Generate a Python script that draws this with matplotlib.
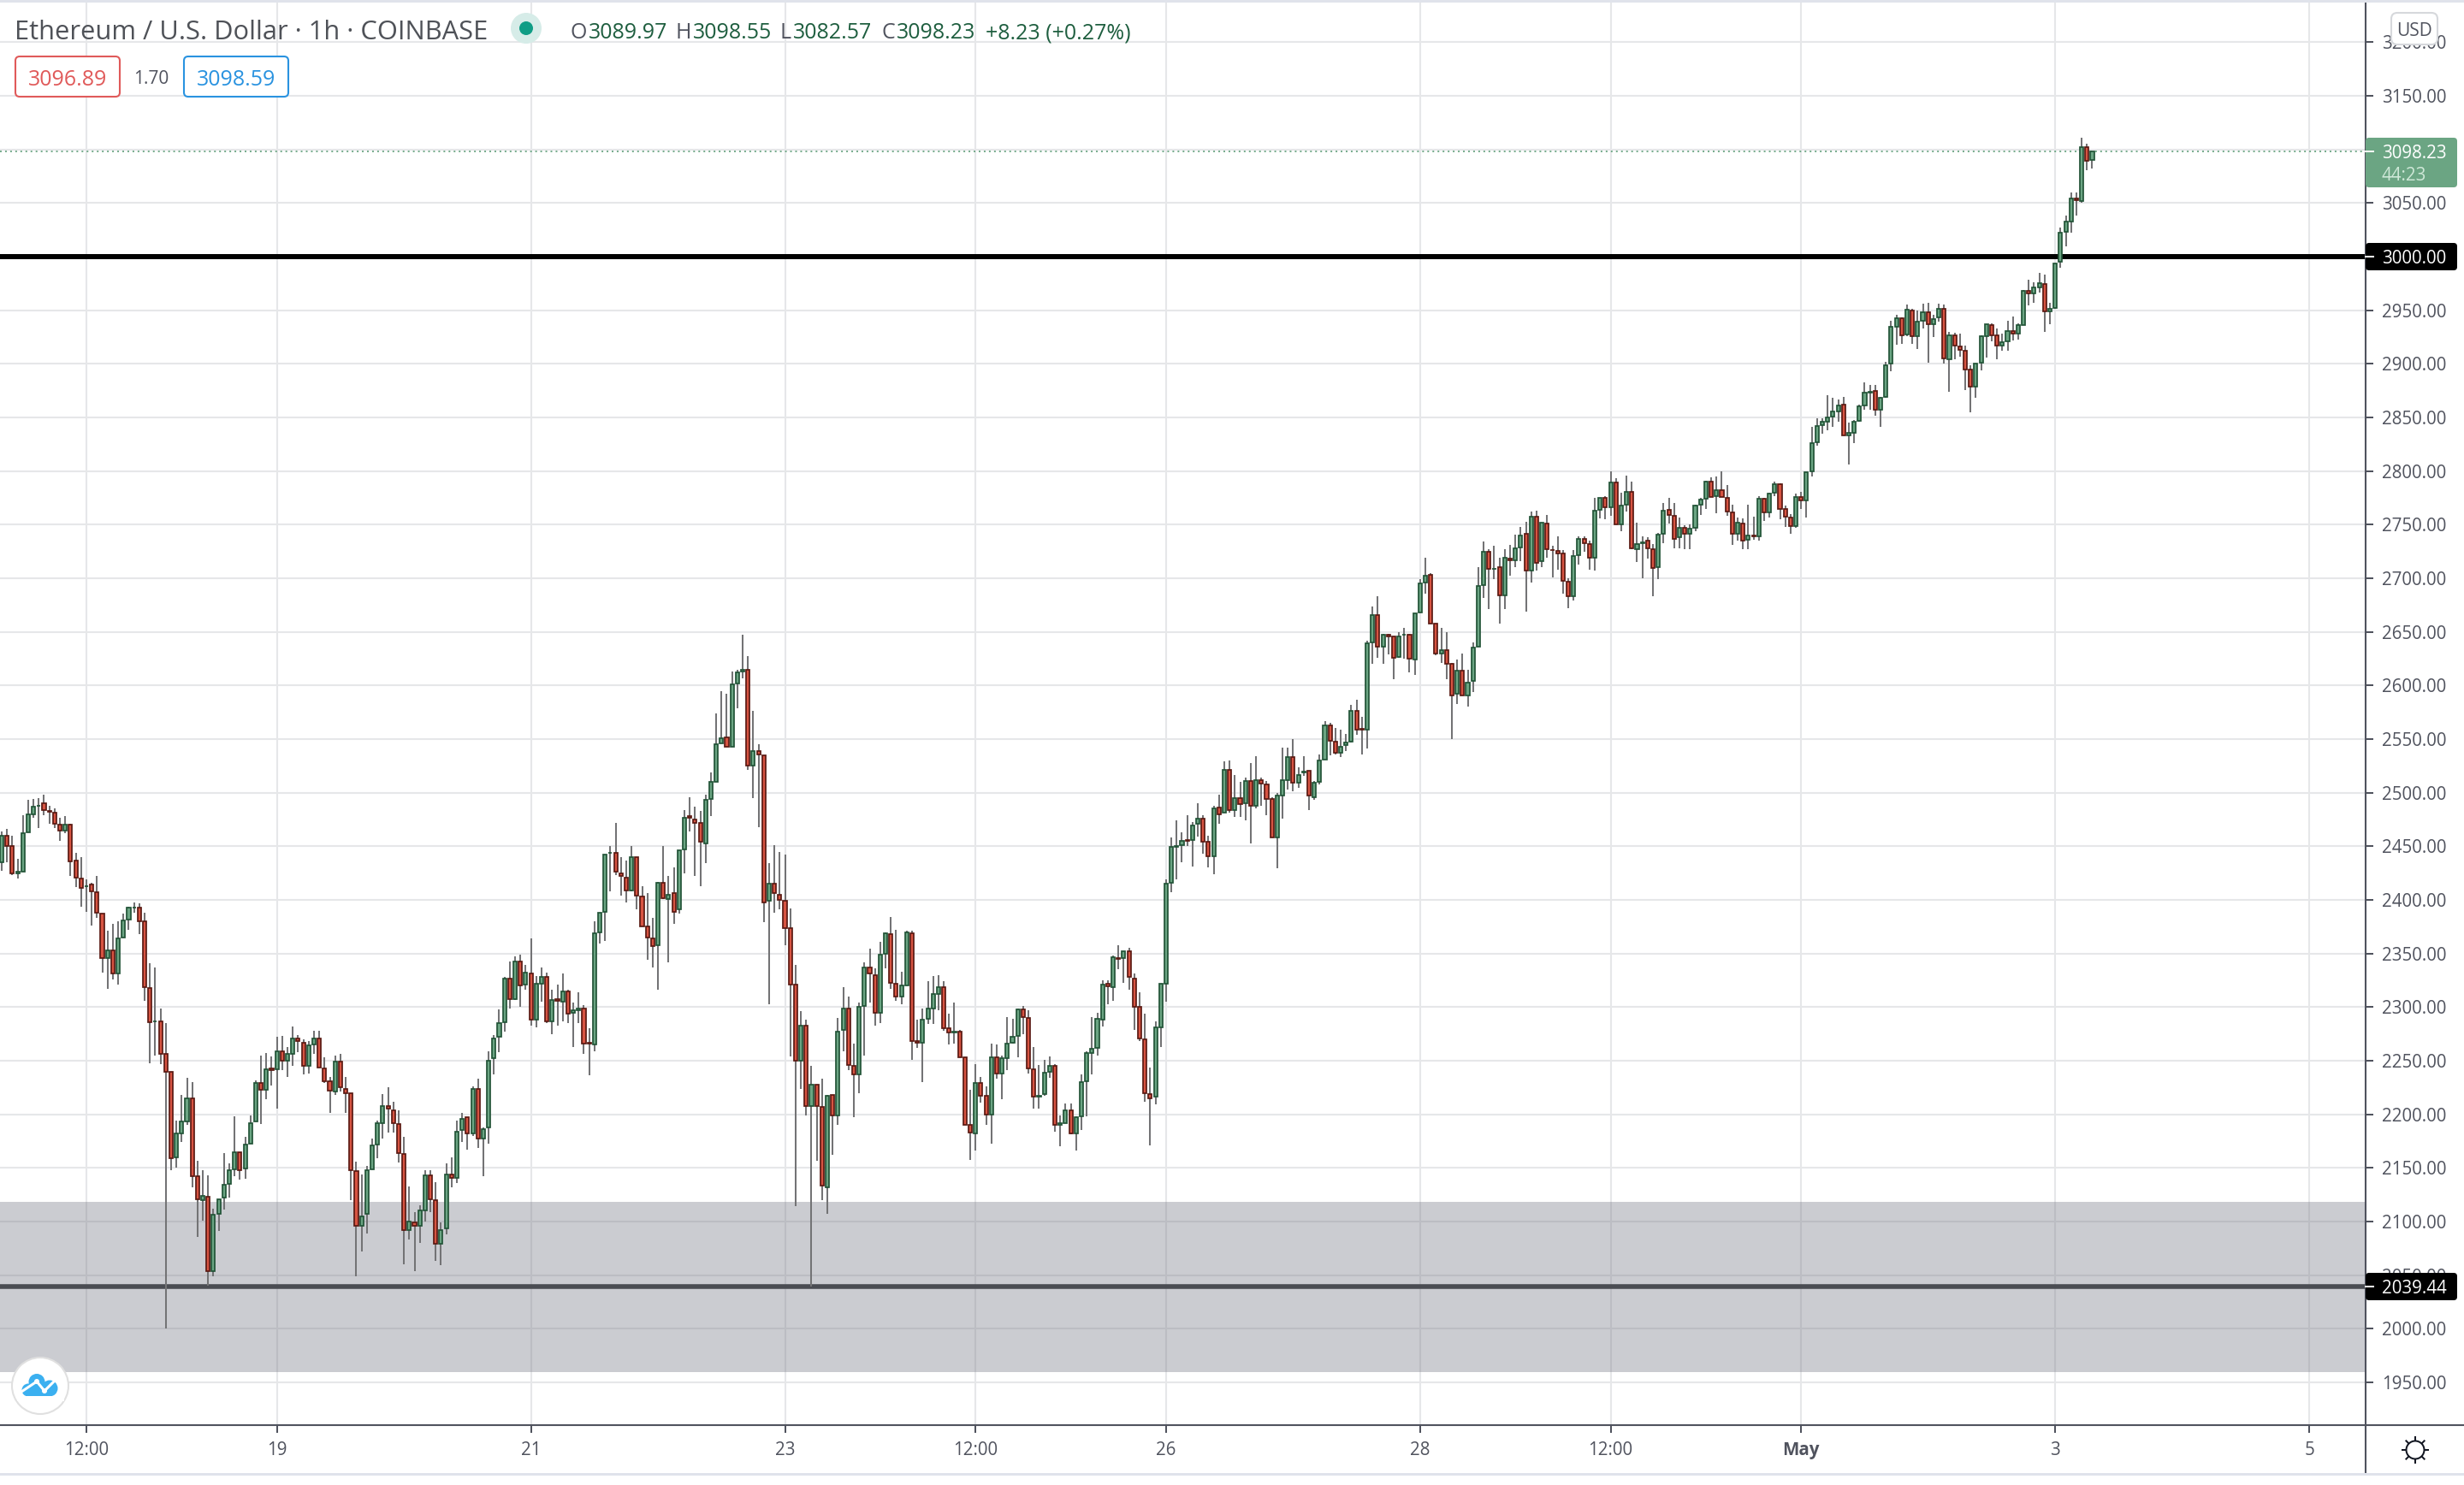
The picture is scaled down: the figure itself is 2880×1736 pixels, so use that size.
import matplotlib
matplotlib.use("Agg")
import matplotlib.pyplot as plt
from matplotlib.patches import Circle, FancyBboxPatch, Rectangle
import numpy as np

plt.rcParams['font.family'] = ['Open Sans', 'DejaVu Sans']

opens = [
2435,2460,2450,2425,2426,2463,2480,2487.5,2490,2483,
2481,2470,2465,2470,2437,2420,2412.5,2414,2407,2387,
2346,2353,2331,2365,2382,2392.5,2393,2380,2318,2286.5,
2287,2256,2240,2159.5,2182,2193,2215,2142,2120,2123,
2054,2107,2122,2135.5,2149,2165,2149.5,2173,2193,2229,
2222.5,2243,2242,2259,2250,2256,2271,2267,2245,2265,
2271,2243,2231,2221,2249,2224,2220,2147,2096,2107,
2149,2172,2191.5,2208,2204,2191,2163,2092,2099.5,2096,
2110,2143,2120,2079,2094,2144,2141,2185,2197,2182,
2224,2177,2188,2252,2272,2286,2327,2307.5,2342.5,2321,
2331,2288,2322,2328,2287,2307.5,2305,2315,2295,2297,
2299,2266.5,2265,2370,2389,2443.5,2444,2425,2421,2409,
2440,2403,2375,2364,2358,2416,2401,2406,2391,2447,
2478,2475,2472,2453,2494,2510,2546,2552,2543,2602,
2613,2615,2525,2539,2535,2399,2415.5,2405,2399,2373.5,
2321,2250,2283,2208,2228,2207,2132,2218,2199,2279,
2299,2245.5,2237,2301,2337,2330,2295,2350,2368,2322,
2310,2320,2369,2268,2267,2289,2299,2312,2319,2280,
2276.5,2277,2253,2190,2182,2229,2217,2200,2253,2238,
2252.5,2267,2273,2297.5,2290,2242,2216.5,2219,2240,2245,
2190,2192,2204,2182,2198,2231,2257.5,2262,2288.5,2322,
2318.6,2346,2346,2352,2327,2300,2270,2219,2216.5,2281,
2322,2416,2449.5,2451,2456,2456,2471,2475.5,2454,2441,
2486,2481,2521,2484,2495,2490,2511,2488,2512,2508,
2494,2458,2497.5,2512,2533,2509,2518.7,2520.5,2496,2510,
2531,2563,2548,2537,2544.7,2548,2576,2559.5,2559,2640,
2666,2636,2647.6,2645.5,2627,2647,2647,2624,2668,2696,
2703.5,2658,2630,2633,2620,2592,2614,2591,2604,2636,
2693.6,2725,2708.7,2710,2684,2718,2717,2729,2741.5,2707,
2757.4,2715.6,2751,2726.5,2725.6,2723,2697,2683.5,2721.7,2737,
2732,2719,2764,2775,2766,2789,2750,2768.6,2781,2727,
2733,2735.5,2727.5,2710,2741.5,2764,2758.5,2738,2747,2741.5,
2747,2768.6,2774.5,2790.5,2776.6,2782.5,2775,2761.5,2741.5,2751,
2736,2740,2739,2774.5,2761.5,2780,2788,2764.6,2757,2748.5,
2776,2772.6,2800,2826.5,2842.7,2846.4,2851,2856,2862,2833,
2836,2847,2861,2873.5,2875,2857,2869,2900,2935,2942.6,
2927.4,2950,2926,2940,2948,2936.7,2943,2951,2904,2927,
2916,2912.5,2895,2879,2901,2926,2936.5,2927,2917,2921,
2931,2928,2936.5,2968,2966,2971.5,2974.5,2949,2952,2995,
3023,3033,3054,3052,3102,3089.97]

closes = [
2460,2450,2425,2426,2462,2480,2487,2488,2484,2482,
2471,2465,2470,2436,2421,2411,2413,2408,2388,2346,
2353,2331,2364,2381,2393,2393,2380,2319,2286,2287,
2256,2240,2159,2182,2193,2215,2142,2121,2124,2054,
2106,2121,2134,2148,2165,2148,2172,2192,2229,2222.5,
2242,2241.5,2258.5,2250,2256,2271,2268,2245,2264,2271,
2244,2231,2222,2249,2225,2220,2148,2096,2105,2148,
2171,2191.5,2208,2205,2191.5,2164,2092,2100,2096,2110,
2143,2121,2079,2092,2144,2141,2184,2196,2182,2224,
2177,2186,2250,2271,2285,2327,2307.5,2342.5,2320,2332,
2288,2322,2328,2287,2307,2305.5,2315,2294,2297,2299,
2266,2266,2369,2388,2442.5,2444,2426,2422,2409,2440,
2404,2375,2365,2357,2416,2402,2405,2389,2446,2477,
2477,2472,2454,2493,2510.5,2545.5,2551,2543,2601,2612.5,
2615,2525,2539,2536,2398,2415.5,2406,2400,2374,2321,
2250,2283,2208,2228,2207.5,2133.5,2217.5,2199,2277,2298.7,
2246,2237,2300.5,2337,2331,2295,2349,2369,2322.6,2310,
2320,2370,2268,2266.5,2288,2299,2312,2319,2280,2276,
2277,2253,2190,2183,2229,2217,2200,2253,2238,2252,
2266,2272.6,2298,2291,2243,2216.5,2217.5,2239,2245,2190,
2191.5,2204,2182,2197,2230,2257,2261,2289,2321,2319.7,
2346.5,2345,2352,2328,2300.5,2271,2220,2215,2281,2321.5,
2415.5,2449.5,2450.5,2455,2455,2469.5,2475.5,2454,2441,2485.5,
2480,2521,2484,2495,2489.5,2511,2488,2511.5,2508.5,2494,
2458,2497,2512,2533,2509,2516.5,2520,2497.5,2509,2530,
2563,2548.5,2537,2542.5,2546.5,2576,2559,2559,2639,2666,
2636,2647.6,2645.5,2626,2646,2647.4,2625,2667,2695.5,2702.6,
2658,2630,2633,2620,2591,2614,2591,2603,2635.7,2693,
2725,2709,2709,2684,2719,2716.5,2728,2740,2707,2757.4,
2714,2751.5,2727,2726,2723,2698,2683.5,2721,2737,2732.5,
2719,2763,2775,2766,2789,2750,2768,2780.6,2728,2732,
2733.6,2728,2709.5,2741,2763,2759,2737,2747,2741.5,2746,
2768,2773.5,2790.5,2776,2782,2776,2762,2741.5,2751.5,2735.5,
2740,2739,2774.5,2761.5,2779,2788,2765,2757.5,2748.5,2776,
2773,2799,2826,2842,2846,2850,2855.7,2861,2833,2835.5,
2846.4,2860.5,2873,2874,2857,2868,2899,2934.6,2942.6,2927,
2950.5,2926,2939,2948,2936.7,2942,2951,2905,2927,2917,
2913,2895,2879,2900,2926,2937,2927,2917,2920,2931,
2928,2936.5,2968,2966,2971,2975,2949,2951,2994,3022,
3033,3054,3053,3102,3089.6,3098.23]

highs = [
2464,2466,2460,2438,2479,2493,2494,2495,2498,2488,
2485,2477,2478,2471,2444,2440,2419,2416,2422,2387,
2371,2378,2380,2387,2394,2398,2397,2388,2341,2337,
2299,2285,2240,2194,2218,2234,2230,2157,2148,2143,
2112,2121,2164,2154,2198,2165,2179,2199,2232,2255,
2257.5,2254,2272,2273.5,2263,2282,2274,2270,2268,2278,
2278,2253,2235,2255,2256,2235,2220,2156,2144,2152,
2177,2194,2219,2225,2212,2204,2179,2133,2109,2115,
2148,2148,2137,2099,2154,2160,2194,2201,2197,2226,
2233,2188,2258.5,2274,2298,2328,2342.5,2347,2349,2339,
2364,2329,2337,2332,2316,2321,2331,2316,2304,2314,
2302,2280,2380,2388,2442.5,2450,2472,2440,2437,2450,
2440,2413,2406,2383,2417,2450,2422,2430,2446,2484,
2495.5,2487,2483,2498,2518.5,2574,2595,2592,2613,2615,
2647,2627.5,2576,2545,2535,2434,2451,2445,2442.5,2392,
2339,2296,2288,2245,2228,2233,2218,2218,2290,2318.6,
2310,2266,2304,2342,2354.5,2336.5,2361,2370,2384,2372,
2333,2371,2371,2288,2299,2324,2329,2330,2324,2294,
2304,2278.5,2253,2223,2247,2235,2226,2266,2265,2255,
2291,2289,2299,2301,2297,2263,2246,2251,2254,2246.6,
2199,2210,2210,2198,2237,2259,2291,2295,2325,2325,
2348,2358,2352,2355,2331,2314,2294,2244,2286.5,2321.5,
2419,2458,2474,2463,2479,2473,2490,2479,2459.5,2488,
2498,2529,2530,2516.5,2510,2514,2528,2534,2514,2511,
2496,2499.5,2542,2542,2550,2523.5,2534,2520.5,2511,2535.5,
2567,2565,2560,2558.5,2554.5,2582,2587,2571,2641.5,2674,
2683,2648,2648,2646,2649.5,2654,2648,2667.5,2699,2719,
2705,2658,2654,2649.5,2621,2624,2629.5,2615,2640,2710,
2734,2727,2730,2719.4,2727,2731,2741,2748,2752.6,2762,
2763,2752,2759,2730,2739.5,2726,2700,2726,2739.5,2739.5,
2735,2775,2775,2776.6,2800,2793,2780,2796,2790,2752,
2739,2738,2732,2742,2770,2775,2770,2757,2749.5,2750,
2768.6,2775,2791,2794,2795,2800,2787,2769,2757,2756,
2768.6,2757.5,2777,2775,2780,2790,2788.5,2768,2760,2779,
2781,2799,2841,2849.6,2849.6,2870.5,2868,2867,2869,2845.6,
2848,2862,2883,2880.6,2880,2869,2902,2940,2946,2943,
2955,2951,2950,2956,2956.6,2946,2956,2955,2930,2929,
2928.5,2917,2899,2900,2927,2937,2938,2933,2928,2940,
2944,2938,2969,2978.5,2976,2985,2983,2957,2994,3027,
3038,3060,3060,3111,3105.6,3098.55]

lows = [
2427,2435,2423,2420,2426,2463,2477,2467,2479,2471,
2467,2455,2462,2422,2412,2394,2389,2376,2383,2332,
2317,2326,2321,2365,2372,2388,2368,2306,2248,2255,
2247,2000,2148,2150,2174,2190,2132,2086,2100.5,2040,
2049,2091,2111,2122,2142,2139,2140,2173,2193,2191,
2214,2227,2205,2241,2235,2245,2258,2237,2238,2256,
2244,2229,2201,2218,2221,2201,2120,2049,2072,2089,
2149,2159,2177,2183,2183,2155,2060,2083,2054,2080,
2100,2109,2063,2059,2088,2132,2136,2174,2167,2180,
2169,2142,2173,2237,2258,2277,2298.5,2307,2300.5,2316,
2283,2281,2305,2285,2275,2283,2287,2285,2263,2285,
2256.5,2236.5,2258.5,2359,2362,2408,2423,2404,2398,2408,
2391,2375,2344,2337,2316,2401,2342,2378,2387,2425,
2464,2422,2413,2434,2478,2510,2546,2543,2543,2579,
2607,2521,2495,2468,2379,2303,2388,2391,2358,2254,
2114,2224,2199,2039.5,2157,2120,2107,2162,2190,2259,
2241,2197,2220,2255,2304.5,2283,2285,2336.5,2317,2306,
2303,2320,2250.5,2262,2230,2284,2284,2297,2278,2265,
2266,2253,2190,2157.5,2166,2211,2190,2173,2233,2214,
2241.5,2266,2253.5,2275,2238,2205.5,2205.5,2217,2234,2184,
2170,2192,2181,2166,2185.5,2198,2237,2255,2282,2303,
2306,2335,2323,2316.5,2279,2268,2212,2171,2209,2263,
2305,2407,2419,2435,2450,2431,2459,2443,2430,2424,
2471,2481,2481,2477.5,2477.5,2474,2453,2485,2488,2479,
2458,2429.5,2476,2503,2501.5,2504.5,2515.5,2484,2493,2507.5,
2531,2535,2536,2533,2539,2546.5,2554,2536,2541,2620.5,
2626,2620,2629,2605.6,2626,2625,2612,2610,2668,2686,
2658,2628,2621,2606,2550,2582.5,2590.5,2580,2594,2636,
2681.6,2671,2699,2657.5,2671.5,2702.6,2710.6,2716,2669,2696,
2707,2710,2719,2701,2708,2686,2672,2679,2713,2725,
2708,2707.6,2756,2755,2758,2750,2744,2762,2727,2715,
2700,2718,2683,2699,2733,2751,2728,2728,2727,2727,
2744,2759,2765,2776,2761,2776,2758,2731.5,2735.5,2727,
2727,2736,2735,2753.5,2757,2776.5,2755,2747.5,2741.5,2747,
2765,2757,2795,2824,2835,2838,2841,2846,2833,2806,
2826,2846,2857.5,2857.5,2852,2841,2868,2893,2918,2918.6,
2926,2918.6,2914,2933,2901,2925,2939,2900,2874,2904,
2907,2875.5,2855,2868,2894,2906,2921,2904.5,2912.5,2912.5,
2922,2922.6,2936,2954.5,2957,2966.5,2930,2937,2951,2990,
3010,3022,3038,3050,3081,3082.57]

price_ticks = [1950 + 50 * k for k in range(26)]
time_tick_pos = [16, 52, 100, 148, 184, 220, 268, 304, 340, 388, 436]
time_tick_labels = ['12:00', '19', '21', '23', '12:00', '26', '28', '12:00', 'May', '3', '5']
zone_low, zone_high = 1959.5, 2118.3
level_upper, level_lower = 3000.00, 2039.44
last_close = 3098.23

W, H = 2880, 1736
INK = '#50535e'
fig = plt.figure(figsize=(W / 100, H / 100), dpi=100, facecolor='white')
ax = fig.add_axes([0, (H - 1666) / H, 2765 / W, 1666 / H])
ax.set_xlim(-0.323, 446.65)
ax.set_ylim(1910.1, 3239.4)

n = len(opens)
idx = np.arange(n)
o, c, hi, lo = map(np.array, (opens, closes, highs, lows))
up = c >= o

ax.set_axisbelow(True)
ax.grid(True, color='#e6e7e9', lw=1.5)
ax.axhspan(zone_low, zone_high, facecolor='#787b86', alpha=0.38, lw=0, zorder=1.5)
ax.axhline(level_upper, color='black', lw=4.3, zorder=2)
ax.axhline(level_lower, color='#4a4c52', lw=4.0, zorder=2)
ax.axhline(last_close, color='#6ba583', lw=1.3, ls=(0, (1.1, 2.2)), zorder=2.5)
ax.vlines(idx, lo, hi, color='#737375', lw=1.45, zorder=3)
bottoms = np.minimum(o, c)
heights = np.abs(c - o)
ax.bar(idx[up], heights[up], bottom=bottoms[up], width=0.66,
       facecolor='#6ba583', edgecolor='#225437', lw=1.25, zorder=4)
ax.bar(idx[~up], heights[~up], bottom=bottoms[~up], width=0.66,
       facecolor='#d75442', edgecolor='#5b1a13', lw=1.25, zorder=4)

for s in ('top', 'left'):
    ax.spines[s].set_visible(False)
for s in ('right', 'bottom'):
    ax.spines[s].set_color(INK)
    ax.spines[s].set_linewidth(1.5)

ax.yaxis.tick_right()
ax.set_yticks(price_ticks, [f'{v:.2f}' for v in price_ticks])
ax.set_xticks(time_tick_pos, time_tick_labels)
ax.tick_params(axis='y', length=6.5, width=1.45, color=INK, labelcolor=INK, labelsize=14.8, pad=7)
ax.tick_params(axis='x', length=6.5, width=1.45, color=INK, labelcolor=INK, labelsize=14.8, pad=7.5)
for lab in ax.get_xticklabels():
    if lab.get_text() == 'May':
        lab.set_fontweight('bold')

ov = fig.add_axes([0, 0, 1, 1], facecolor='none', zorder=10)
ov.set_xlim(0, W)
ov.set_ylim(H, 0)
ov.axis('off')

ov.add_patch(Rectangle((0, 0), W, 2.5, fc='#e0e3eb', lw=0))
ov.add_patch(Rectangle((0, 1722), W, 2.5, fc='#e0e3eb', lw=0))
ov.plot([2765, 2765], [1666, 1722], color=INK, lw=1.5, solid_capstyle='butt')
ov.plot([2765, W], [1666, 1666], color=INK, lw=1.5, solid_capstyle='butt')


def rbox(x0, y0, x1, y1, fc, ec='none', lw=0, r=5):
    ov.add_patch(FancyBboxPatch((x0, y0), x1 - x0, y1 - y0,
                                boxstyle=f'round,pad=0,rounding_size={r}',
                                fc=fc, ec=ec, lw=lw, mutation_aspect=1))


# header
ov.text(17, 38, 'Ethereum / U.S. Dollar · 1h · COINBASE', fontsize=22.2, color='#4f5258', va='center')
ov.add_patch(Circle((615, 33), 18, fc='#d6ece8', lw=0))
ov.add_patch(Circle((615, 33), 8, fc='#0f9d85', lw=0))
for x, letter, val in [(667, 'O', '3089.97'), (790, 'H', '3098.55'),
                       (912, 'L', '3082.57'), (1031, 'C', '3098.23')]:
    t = ov.text(x, 38.5, letter, fontsize=18, color=INK, va='center')
    ov.annotate(val, xy=(1, 0.5), xycoords=t, xytext=(1, 0), textcoords='offset points',
                fontsize=18, color='#1e5e3f', va='center')
ov.text(1152, 38.5, '+8.23 (+0.27%)', fontsize=18, color='#1e5e3f', va='center')

rbox(18, 66, 140, 113, 'white', '#e05a5a', 1.5)
ov.text(79, 93, '3096.89', fontsize=18, color='#e05a5a', ha='center', va='center')
ov.text(177, 92, '1.70', fontsize=15, color=INK, ha='center', va='center')
rbox(215, 66, 337, 113, 'white', '#2a93e0', 1.5)
ov.text(276, 93, '3098.59', fontsize=18, color='#2a93e0', ha='center', va='center')

# price tags
rbox(2765, 161, 2872, 219, '#6ba583', r=4)
ov.plot([2765, 2774], [177, 177], color='white', lw=1.45)
ov.text(2784, 179.5, '3098.23', fontsize=14.8, color='white', va='center')
ov.text(2784, 205.5, '44:23', fontsize=14.8, color='#cfe8d8', va='center')
rbox(2765, 284, 2872, 316, 'black', r=4)
ov.plot([2765, 2774], [300, 300], color='white', lw=1.45)
ov.text(2784, 302, '3000.00', fontsize=14.8, color='white', va='center')
rbox(2765, 1488, 2872, 1520, 'black', r=4)
ov.plot([2765, 2774], [1504, 1504], color='white', lw=1.45)
ov.text(2784, 1506, '2039.44', fontsize=14.8, color='white', va='center')

# currency button
rbox(2795, 15, 2849, 52, 'white', '#d6d8dc', 1.5, r=7)
ov.text(2822, 36, 'USD', fontsize=15, color=INK, ha='center', va='center')

# settings sun
ov.add_patch(Circle((2823, 1695), 10.5, fc='white', ec='#131722', lw=1.45))
for a in np.deg2rad(np.arange(0, 360, 45)):
    ov.plot([2823 + 11 * np.cos(a), 2823 + 15 * np.cos(a)],
            [1695 + 11 * np.sin(a), 1695 + 15 * np.sin(a)], color='#131722', lw=1.45)

# logo
ov.add_patch(Circle((47, 1620), 33, fc='white', ec='#e0e0e0', lw=1.5))
BLUE = '#3bb0f0'
for cx, cy, r in [(43, 1615.5, 9.5), (33, 1625, 7.5), (58, 1623, 9.5)]:
    ov.add_patch(Circle((cx, cy), r, fc=BLUE, lw=0))
ov.add_patch(Rectangle((30, 1622), 30, 10, fc=BLUE, lw=0))
ov.plot([25, 43, 52, 64], [1627, 1615, 1626, 1614], color='white', lw=2.2, solid_joinstyle='round')
ov.add_patch(Circle((43, 1615), 3, fc='white', lw=0))
ov.add_patch(Circle((52, 1626), 3, fc='white', lw=0))
ov.add_patch(Rectangle((20, 1632), 55, 6, fc='white', lw=0))

fig.savefig('out.png', dpi=100, facecolor='white')
